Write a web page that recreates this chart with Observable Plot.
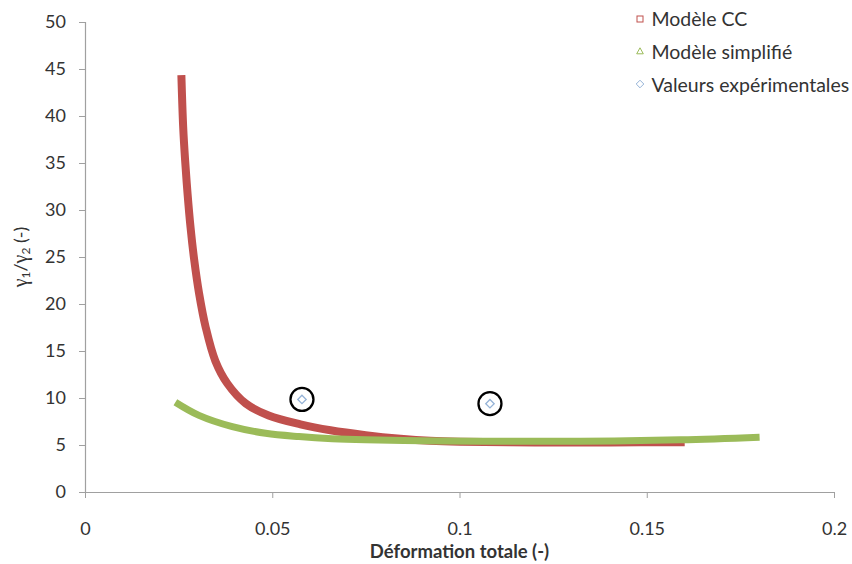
<!DOCTYPE html>
<html>
<head>
<meta charset="utf-8">
<script src="https://cdn.jsdelivr.net/npm/d3@7"></script>
<script src="https://cdn.jsdelivr.net/npm/@observablehq/plot@0.6"></script>
<style>
  html, body { margin: 0; padding: 0; background: #ffffff; }
  body { font-family: Lato, "Noto Sans", sans-serif; color: #333; }
  #wrap { position: relative; width: 852px; height: 564px; overflow: hidden; }
  #chart svg { display: block; }
  .lg-row { position: absolute; left: 651.5px; font-size: 19.5px; line-height: 24px; white-space: nowrap; color: #333; }
  .lg-mark { position: absolute; width: 10px; height: 10px; }
  .xtitle { position: absolute; left: 259.5px; width: 400px; text-align: center; top: 540px;
            font-size: 18.5px; line-height: 22px; font-weight: bold; color: #333; }
  .ytitle { position: absolute; left: 20px; top: 257px; transform: translate(-50%, -50%) rotate(-90deg);
            white-space: nowrap; font-size: 18px; line-height: 22px; color: #333; }
  .ytitle .g { font-family: "Liberation Serif", "DejaVu Serif", serif; font-size: 20px; }
  .ytitle sub { font-size: 12px; vertical-align: -3px; line-height: 0; }
</style>
</head>
<body>
<div id="wrap">
  <div id="chart"></div>
</div>
<script>
// ---- Data ----
// Série 1 : Modèle CC
const ccX = [0.0256, 0.02608, 0.02659, 0.02725, 0.02805, 0.02904, 0.03032, 0.03208, 0.03467, 0.03787,
             0.0428, 0.0489, 0.0574, 0.0654, 0.0748, 0.0841, 0.0920, 0.1000, 0.1200, 0.1400, 0.1600];
const ccY = [44.4, 38.9, 35.4, 31.8, 28.2, 24.7, 21.2, 17.6, 14.0, 11.6,
             9.47, 8.19, 7.25, 6.62, 6.1, 5.72, 5.5, 5.4, 5.33, 5.33, 5.35];
// Série 2 : Modèle simplifié
const simpX = [0.0240, 0.0303, 0.0392, 0.0481, 0.0570, 0.0659, 0.0748, 0.0900, 0.1055, 0.1322, 0.1589, 0.1800];
const simpY = [9.6, 8.2, 7.0, 6.3, 5.95, 5.72, 5.6, 5.5, 5.46, 5.46, 5.6, 5.88];
// Série 3 : Valeurs expérimentales
const expX = [0.0578, 0.1080];
const expY = [9.9, 9.45];
// Axes
const xTicks = [0, 0.05, 0.1, 0.15, 0.2];
const yTicks = [0, 5, 10, 15, 20, 25, 30, 35, 40, 45, 50];
const seriesNames = ["Modèle CC", "Modèle simplifié", "Valeurs expérimentales"];
const xTitle = "Déformation totale (-)";

// ---- Build tables ----
const cc = ccX.map((x, i) => ({x, y: ccY[i]}));
const simp = simpX.map((x, i) => ({x, y: simpY[i]}));
const exp = expX.map((x, i) => ({x, y: expY[i]}));

const RED = "#c0504d", GREEN = "#9bbb59", BLUE = "#95b3d7", AXIS = "#a0a0a0";
const fmt = d => String(+(+d).toFixed(2));

const chart = Plot.plot({
  width: 852,
  height: 564,
  marginLeft: 85,
  marginRight: 18,
  marginTop: 22,
  marginBottom: 72,
  style: { fontFamily: "Lato, 'Noto Sans', sans-serif", fontSize: "18px", color: "#333", background: "white" },
  x: { domain: [0, 0.2], label: null },
  y: { domain: [0, 50], label: null },
  marks: [
    Plot.ruleX([0], { stroke: AXIS, strokeWidth: 1.2 }),
    Plot.ruleY([0], { stroke: AXIS, strokeWidth: 1.2 }),
    Plot.axisX({ ticks: xTicks, tickFormat: fmt, tickSize: 6, tickPadding: 24, stroke: AXIS, fill: "#333", label: null }),
    Plot.axisY({ ticks: yTicks, tickSize: 6, tickPadding: 13.5, stroke: AXIS, fill: "#333", label: null }),
    Plot.line(cc, { x: "x", y: "y", stroke: RED, strokeWidth: 8, curve: "catmull-rom", strokeLinecap: "butt" }),
    Plot.line(simp, { x: "x", y: "y", stroke: GREEN, strokeWidth: 7, curve: "catmull-rom", strokeLinecap: "butt" }),
    Plot.dot(exp, { x: "x", y: "y", symbol: "diamond2", r: 3.8, stroke: BLUE, strokeWidth: 1.3, fill: "white" }),
    Plot.dot(exp, { x: "x", y: "y", r: 11.5, stroke: "black", strokeWidth: 2.3, fill: "none" })
  ]
});
document.getElementById("chart").appendChild(chart);

// ---- Legend & titles ----
const wrap = document.getElementById("wrap");
const rowsTop = [7.1, 39.8, 72.5];
const marks = [
  `<svg class="lg-mark" viewBox="0 0 10 10"><rect x="2" y="2" width="6" height="6" fill="white" stroke="${RED}" stroke-width="1"/></svg>`,
  `<svg class="lg-mark" viewBox="0 0 10 10"><path d="M5,1.8 L8.3,7.8 L1.7,7.8 Z" fill="white" stroke="${GREEN}" stroke-width="1"/></svg>`,
  `<svg class="lg-mark" viewBox="0 0 10 10"><path d="M5,1.2 L8.8,5 L5,8.8 L1.2,5 Z" fill="white" stroke="${BLUE}" stroke-width="1"/></svg>`
];
seriesNames.forEach((name, i) => {
  const row = document.createElement("div");
  row.className = "lg-row";
  row.style.top = rowsTop[i] + "px";
  row.textContent = name;
  wrap.appendChild(row);
  const m = document.createElement("div");
  m.innerHTML = marks[i];
  const s = m.firstElementChild;
  s.style.left = "635px";
  s.style.top = (rowsTop[i] + 12 - 5 - 0.5) + "px";
  wrap.appendChild(s);
});

const xt = document.createElement("div");
xt.className = "xtitle";
xt.textContent = xTitle;
wrap.appendChild(xt);

const yt = document.createElement("div");
yt.className = "ytitle";
yt.innerHTML = '<span class="g">γ</span><sub>1</sub>/<span class="g">γ</span><sub>2</sub> (-)';
wrap.appendChild(yt);
</script>
</body>
</html>
